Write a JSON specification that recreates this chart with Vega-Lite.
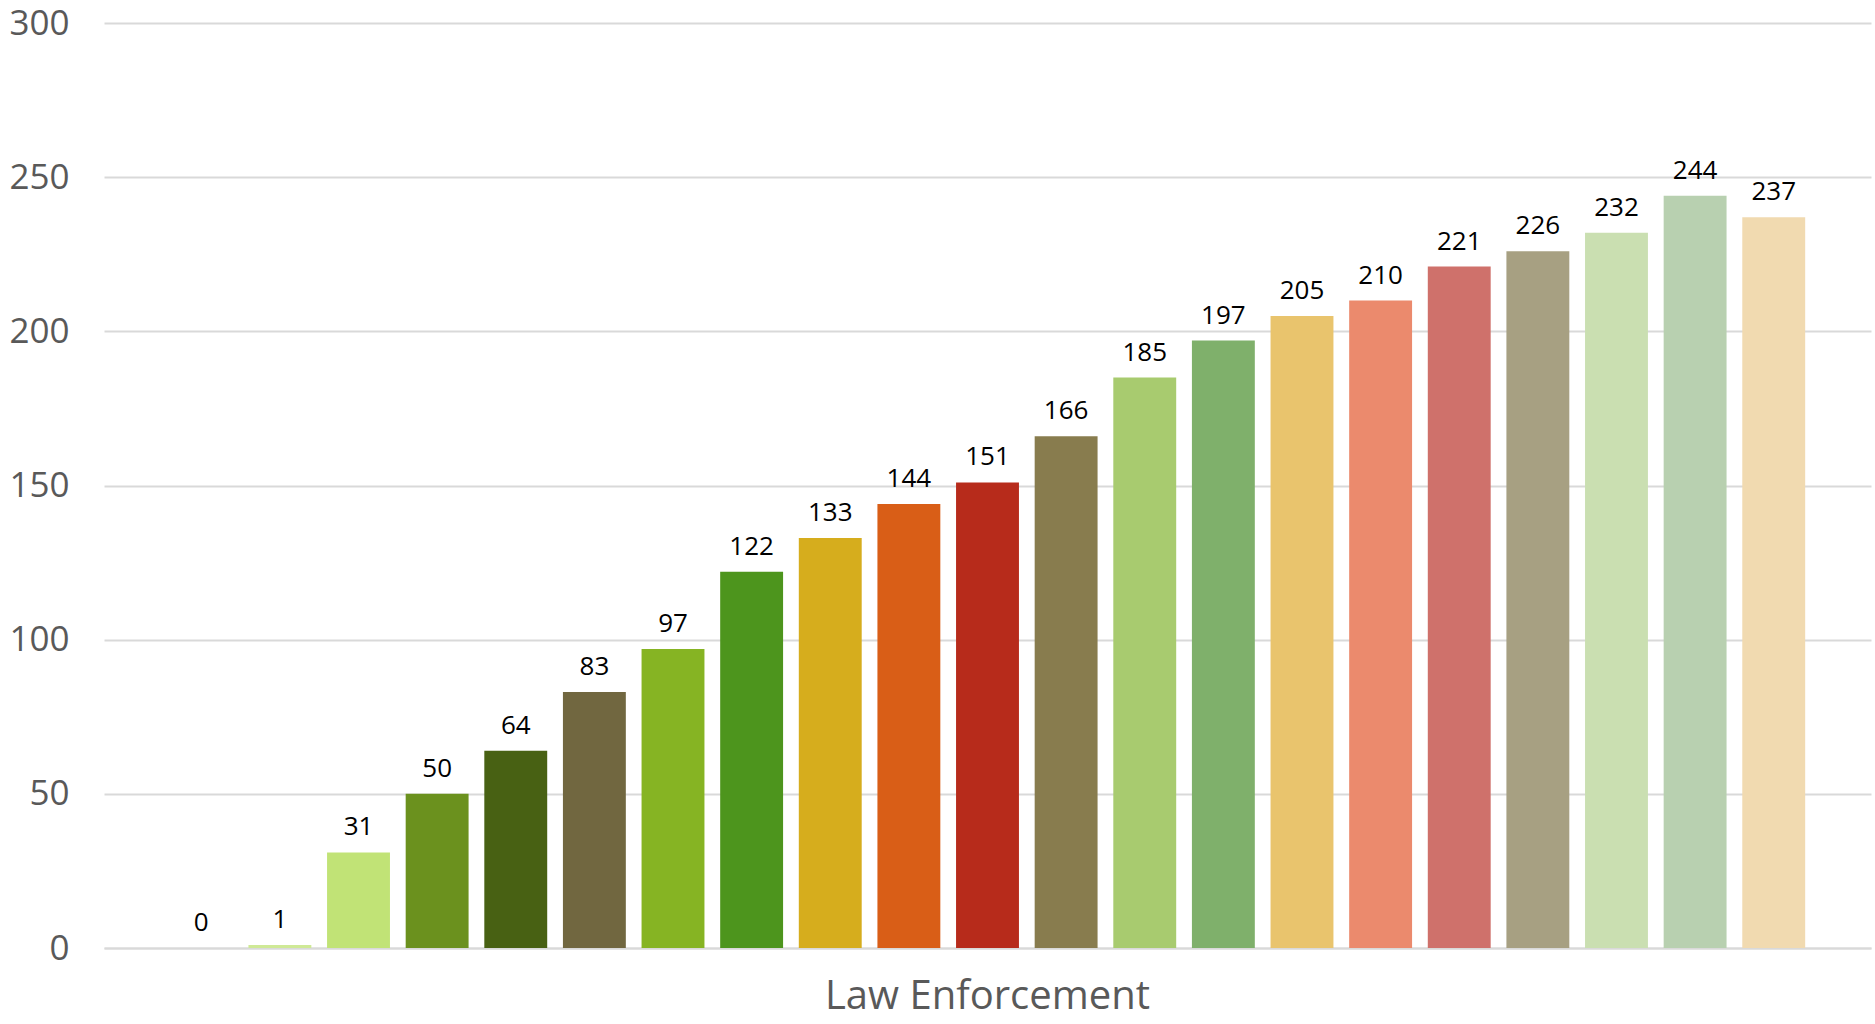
{
  "$schema": "https://vega.github.io/schema/vega-lite/v6.json",
  "autosize": {"type": "none"},
  "padding": {"left": 104, "top": 23, "right": 4, "bottom": 76},
  "width": 1767,
  "height": 925,
  "background": "white",
  "config": {"view": {"stroke": null}},
  "data": {
    "values": [
      {"cat": "Law Enforcement", "series": "S01", "value": 0},
      {"cat": "Law Enforcement", "series": "S02", "value": 1},
      {"cat": "Law Enforcement", "series": "S03", "value": 31},
      {"cat": "Law Enforcement", "series": "S04", "value": 50},
      {"cat": "Law Enforcement", "series": "S05", "value": 64},
      {"cat": "Law Enforcement", "series": "S06", "value": 83},
      {"cat": "Law Enforcement", "series": "S07", "value": 97},
      {"cat": "Law Enforcement", "series": "S08", "value": 122},
      {"cat": "Law Enforcement", "series": "S09", "value": 133},
      {"cat": "Law Enforcement", "series": "S10", "value": 144},
      {"cat": "Law Enforcement", "series": "S11", "value": 151},
      {"cat": "Law Enforcement", "series": "S12", "value": 166},
      {"cat": "Law Enforcement", "series": "S13", "value": 185},
      {"cat": "Law Enforcement", "series": "S14", "value": 197},
      {"cat": "Law Enforcement", "series": "S15", "value": 205},
      {"cat": "Law Enforcement", "series": "S16", "value": 210},
      {"cat": "Law Enforcement", "series": "S17", "value": 221},
      {"cat": "Law Enforcement", "series": "S18", "value": 226},
      {"cat": "Law Enforcement", "series": "S19", "value": 232},
      {"cat": "Law Enforcement", "series": "S20", "value": 244},
      {"cat": "Law Enforcement", "series": "S21", "value": 237}
    ]
  },
  "encoding": {
    "x": {
      "field": "cat", "type": "nominal",
      "scale": {"paddingInner": 0, "paddingOuter": 0.0351},
      "axis": {
        "title": null, "labelAngle": 0, "ticks": false,
        "domainColor": "#d9d9d9", "domainWidth": 2,
        "labelFont": "Open Sans", "labelFontSize": 40, "labelColor": "#595959",
        "labelPadding": 28, "labelLimit": 0
      }
    },
    "xOffset": {
      "field": "series", "type": "nominal",
      "scale": {"paddingInner": 0.2, "paddingOuter": 0.1}
    },
    "y": {
      "field": "value", "type": "quantitative",
      "scale": {"domain": [0, 300], "nice": false},
      "axis": {
        "title": null, "values": [0, 50, 100, 150, 200, 250, 300],
        "domain": false, "ticks": false,
        "gridColor": "#d9d9d9", "gridWidth": 2,
        "labelFont": "Open Sans", "labelFontSize": 35, "labelColor": "#595959",
        "labelPadding": 35
      }
    }
  },
  "layer": [
    {
      "mark": {"type": "bar"},
      "encoding": {
        "color": {
          "field": "series", "type": "nominal", "legend": null,
          "scale": {
            "domain": ["S01","S02","S03","S04","S05","S06","S07","S08","S09","S10","S11","S12","S13","S14","S15","S16","S17","S18","S19","S20","S21"],
            "range": ["#a5c249","#cfe996","#c1e376","#6b911e","#486113","#716740","#86b423","#4d951d","#d6ad1d","#d95e17","#b72b1b","#887c4e","#a8cb6f","#7fb06b","#e9c46d","#eb8a6d","#cf716b","#a7a082","#cadfb1","#b8d0b0","#f1dab0"]
          }
        }
      }
    },
    {
      "mark": {"type": "text", "baseline": "alphabetic", "align": "center", "dy": -17, "font": "Open Sans", "fontSize": 26, "color": "#000000"},
      "encoding": {
        "text": {"field": "value", "type": "quantitative"}
      }
    }
  ]
}
